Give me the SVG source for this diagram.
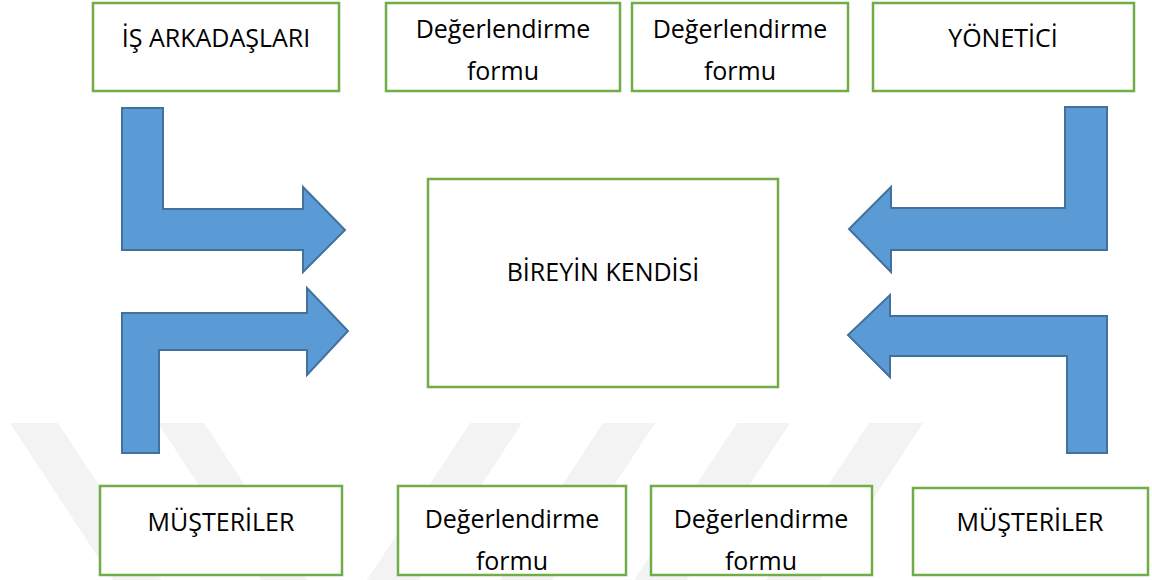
<svg xmlns="http://www.w3.org/2000/svg" width="1152" height="580" viewBox="0 0 1152 580">
  <style>
    .box { fill: #ffffff; stroke: #70AD47; stroke-width: 2.5; }
    .lbl { font-family: "Open Sans", "Noto Sans", "DejaVu Sans", sans-serif; font-size: 25px; fill: #000000; text-anchor: middle; }
    .arrow { fill: #5B9BD5; stroke: #41719C; stroke-width: 2; stroke-linejoin: miter; }
    .wm { fill: #f3f3f3; }
  </style>

  <rect width="1152" height="580" fill="#ffffff"/>

  <!-- faint background stripes -->
  <g id="watermark">
    <polygon class="wm" points="10,423 58,423 161,580 113,580"/>
    <polygon class="wm" points="158,423 204,423 307,580 261,580"/>
    <polygon class="wm" points="470,423 522,423 419,580 367,580"/>
    <polygon class="wm" points="603,423 655,423 552,580 500,580"/>
    <polygon class="wm" points="737,423 790,423 687,580 634,580"/>
    <polygon class="wm" points="869,423 923,423 820,580 766,580"/>
  </g>

  <!-- connectors: bent block arrows -->
  <g id="connectors">
    <path class="arrow" d="M122,108 L163,108 L163,209 L303,209 L303,187 L345,230 L303,272 L303,250 L122,250 Z"/>
    <path class="arrow" d="M122,453 L159,453 L159,350 L307,350 L307,375 L348,331 L307,288 L307,313 L122,313 Z"/>
    <path class="arrow" d="M1107,107 L1065,107 L1065,208 L891,208 L891,187 L849,229 L891,272 L891,250 L1107,250 Z"/>
    <path class="arrow" d="M1107,453 L1067,453 L1067,356 L890,356 L890,377 L848,335 L890,295 L890,316 L1107,316 Z"/>
  </g>

  <!-- top row -->
  <g id="is-arkadaslari">
    <rect class="box" x="93" y="3" width="246" height="88"/>
    <text class="lbl" x="216" y="47">İŞ ARKADAŞLARI</text>
  </g>
  <g id="form-top-1">
    <rect class="box" x="386" y="3" width="234" height="88"/>
    <text class="lbl" x="503" y="38">Değerlendirme</text>
    <text class="lbl" x="503" y="80">formu</text>
  </g>
  <g id="form-top-2">
    <rect class="box" x="632" y="3" width="216" height="88"/>
    <text class="lbl" x="740" y="38">Değerlendirme</text>
    <text class="lbl" x="740" y="80">formu</text>
  </g>
  <g id="yonetici">
    <rect class="box" x="873" y="3" width="261" height="88"/>
    <text class="lbl" x="1003" y="47">YÖNETİCİ</text>
  </g>

  <!-- centre -->
  <g id="bireyin-kendisi">
    <rect class="box" x="428" y="179" width="350" height="208"/>
    <text class="lbl" x="603" y="281">BİREYİN KENDİSİ</text>
  </g>

  <!-- bottom row -->
  <g id="musteriler-1">
    <rect class="box" x="100" y="486" width="242" height="89"/>
    <text class="lbl" x="221" y="531">MÜŞTERİLER</text>
  </g>
  <g id="form-bottom-1">
    <rect class="box" x="398" y="486" width="228" height="89"/>
    <text class="lbl" x="512" y="528">Değerlendirme</text>
    <text class="lbl" x="512" y="570">formu</text>
  </g>
  <g id="form-bottom-2">
    <rect class="box" x="651" y="486" width="221" height="89"/>
    <text class="lbl" x="761" y="528">Değerlendirme</text>
    <text class="lbl" x="761" y="570">formu</text>
  </g>
  <g id="musteriler-2">
    <rect class="box" x="913" y="488" width="235" height="87"/>
    <text class="lbl" x="1030" y="531">MÜŞTERİLER</text>
  </g>
</svg>
